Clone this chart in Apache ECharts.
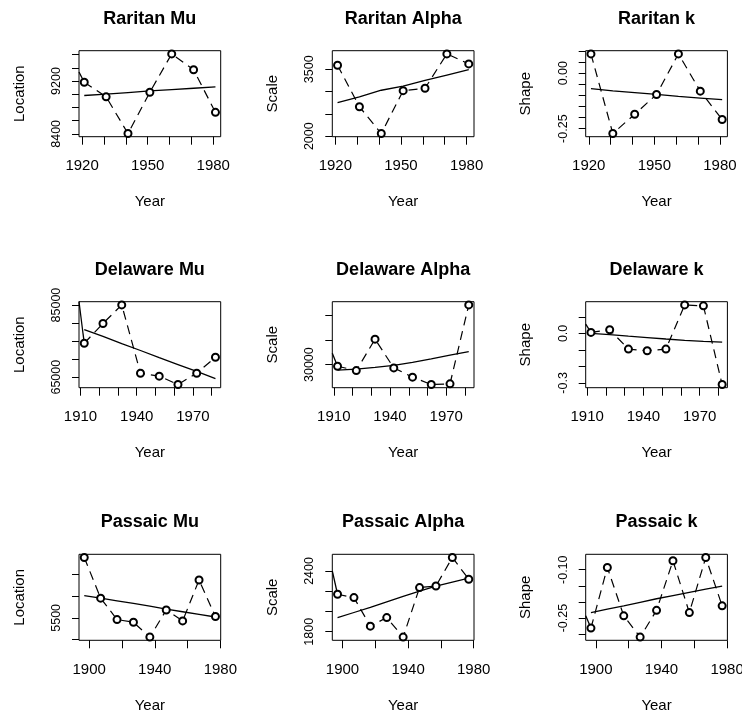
<!DOCTYPE html>
<html>
<head>
<meta charset="utf-8">
<script src="https://cdn.jsdelivr.net/npm/echarts@6/dist/echarts.min.js"></script>
<style>
html, body { margin: 0; padding: 0; background: #fff; }
#chart { width: 742px; height: 717px; }
</style>
</head>
<body>
<div id="chart"></div>
<script>
// years for each river
const raritanYears = [1921, 1931, 1941, 1951, 1961, 1971, 1981]
const delawareYears = [1912, 1922, 1932, 1942, 1952, 1962, 1972, 1982]
const passaicYears = [1897, 1907, 1917, 1927, 1937, 1947, 1957, 1967, 1977]

// dashed series (estimates) and solid trend
const raritanMu = [9180, 8960, 8405, 9030, 9610, 9370, 8725]
const raritanMuTrend = [8980, 9000, 9025, 9050, 9070, 9090, 9110]
const raritanAlpha = [3590, 2660, 2060, 3020, 3075, 3845, 3620]
const raritanAlphaTrend = [2750, 2880, 3030, 3120, 3250, 3370, 3490]
const raritanK = [0.087, -0.272, -0.185, -0.096, 0.087, -0.081, -0.209]
const raritanKTrend = [-0.070, -0.080, -0.088, -0.096, -0.105, -0.112, -0.119]

const delawareMu = [74400, 79900, 85050, 66100, 65280, 62960, 66100, 70520]
const delawareMuTrend = [78200, 76300, 74300, 72400, 70400, 68500, 66600, 64600]
const delawareAlpha = [29350, 27580, 40300, 28670, 24920, 21940, 22220, 54180]
const delawareAlphaTrend = [27800, 28200, 28900, 29700, 30900, 32300, 33800, 35300]
const delawareK = [0.006, 0.022, -0.095, -0.105, -0.095, 0.173, 0.167, -0.310]
const delawareKTrend = [0.000, -0.008, -0.017, -0.025, -0.034, -0.042, -0.048, -0.053]

const passaicMu = [6880, 5950, 5460, 5400, 5060, 5680, 5430, 6365, 5530]
const passaicMuTrend = [6010, 5950, 5890, 5830, 5770, 5700, 5640, 5580, 5520]
const passaicAlpha = [2170, 2137, 1855, 1940, 1747, 2236, 2252, 2533, 2318]
const passaicAlphaTrend = [1940, 1990, 2040, 2095, 2150, 2200, 2250, 2290, 2330]
const passaicK = [-0.281, -0.093, -0.243, -0.309, -0.226, -0.072, -0.233, -0.062, -0.212]
const passaicKTrend = [-0.233, -0.222, -0.212, -0.201, -0.190, -0.180, -0.170, -0.160, -0.151]

// short segment entering from the left edge (value at left edge), null = none
const leadValues = [9335, null, null, 86000, 34600, 0.056, null, 2400, -0.243]

// tick marks and labelled ticks
const raritanXTicks = [1920, 1930, 1940, 1950, 1960, 1970, 1980]
const raritanXLabels = [1920, 1950, 1980]
const delawareXTicks = [1910, 1920, 1930, 1940, 1950, 1960, 1970, 1980]
const delawareXLabels = [1910, 1940, 1970]
const passaicXTicks = [1900, 1920, 1940, 1960, 1980]
const passaicXLabels = [1900, 1940, 1980]

const raritanMuTicks = [8400, 8600, 8800, 9000, 9200, 9400, 9600]
const raritanMuLabels = [8400, 9200]
const raritanAlphaTicks = [2000, 2500, 3000, 3500]
const raritanAlphaLabels = [2000, 3500]
const raritanKTicks = [-0.25, -0.2, -0.15, -0.1, -0.05, 0, 0.05, 0.1]
const raritanKLabels = [-0.25, 0]
const delawareMuTicks = [65000, 70000, 75000, 80000, 85000]
const delawareMuLabels = [65000, 85000]
const delawareAlphaTicks = [30000, 40000, 50000]
const delawareAlphaLabels = [30000]
const delawareKTicks = [-0.3, -0.2, -0.1, 0, 0.1]
const delawareKLabels = [-0.3, 0]
const passaicMuTicks = [5000, 5500, 6000, 6500]
const passaicMuLabels = [5500]
const passaicAlphaTicks = [1800, 2000, 2200, 2400]
const passaicAlphaLabels = [1800, 2400]
const passaicKTicks = [-0.3, -0.25, -0.2, -0.15, -0.1]
const passaicKLabels = [-0.25, -0.1]

const panels = [
  { title: 'Raritan Mu', yName: 'Location', years: raritanYears, vals: raritanMu, trend: raritanMuTrend, xt: raritanXTicks, xl: raritanXLabels, yt: raritanMuTicks, yl: raritanMuLabels, dec: 0 },
  { title: 'Raritan Alpha', yName: 'Scale', years: raritanYears, vals: raritanAlpha, trend: raritanAlphaTrend, xt: raritanXTicks, xl: raritanXLabels, yt: raritanAlphaTicks, yl: raritanAlphaLabels, dec: 0 },
  { title: 'Raritan k', yName: 'Shape', years: raritanYears, vals: raritanK, trend: raritanKTrend, xt: raritanXTicks, xl: raritanXLabels, yt: raritanKTicks, yl: raritanKLabels, dec: 2 },
  { title: 'Delaware Mu', yName: 'Location', years: delawareYears, vals: delawareMu, trend: delawareMuTrend, xt: delawareXTicks, xl: delawareXLabels, yt: delawareMuTicks, yl: delawareMuLabels, dec: 0 },
  { title: 'Delaware Alpha', yName: 'Scale', years: delawareYears, vals: delawareAlpha, trend: delawareAlphaTrend, xt: delawareXTicks, xl: delawareXLabels, yt: delawareAlphaTicks, yl: delawareAlphaLabels, dec: 0 },
  { title: 'Delaware k', yName: 'Shape', years: delawareYears, vals: delawareK, trend: delawareKTrend, xt: delawareXTicks, xl: delawareXLabels, yt: delawareKTicks, yl: delawareKLabels, dec: 1 },
  { title: 'Passaic Mu', yName: 'Location', years: passaicYears, vals: passaicMu, trend: passaicMuTrend, xt: passaicXTicks, xl: passaicXLabels, yt: passaicMuTicks, yl: passaicMuLabels, dec: 0 },
  { title: 'Passaic Alpha', yName: 'Scale', years: passaicYears, vals: passaicAlpha, trend: passaicAlphaTrend, xt: passaicXTicks, xl: passaicXLabels, yt: passaicAlphaTicks, yl: passaicAlphaLabels, dec: 0 },
  { title: 'Passaic k', yName: 'Shape', years: passaicYears, vals: passaicK, trend: passaicKTrend, xt: passaicXTicks, xl: passaicXLabels, yt: passaicKTicks, yl: passaicKLabels, dec: 2 }
]

const FONT = '"Liberation Sans", Arial, Helvetica, sans-serif'
const COL_LEFT = [79, 332.3, 585.7]
const ROW_TOP = [50.7, 301.7, 554.3]
const PLOT_W = 141.7
const PLOT_H = 86

// R style axis range: data range padded by 4%
function padRange(arr) {
  const lo = Math.min(...arr)
  const hi = Math.max(...arr)
  const d = (hi - lo) * 0.04
  return [lo - d, hi + d]
}
const zip = (xs, ys) => xs.map((x, i) => [x, ys[i]])

const grid = []
const xAxis = []
const yAxis = []
const series = []
const graphic = []

panels.forEach((p, i) => {
  const col = i % 3
  const row = Math.floor(i / 3)
  const left = COL_LEFT[col]
  const top = ROW_TOP[row]
  const xr = padRange(p.years)
  const yr = padRange(p.vals)

  grid.push({
    left: left, top: top, width: PLOT_W, height: PLOT_H,
    show: true, borderColor: '#000', borderWidth: 1, backgroundColor: 'transparent',
    containLabel: false, outerBoundsMode: 'none'
  })
  xAxis.push({
    gridIndex: i, type: 'value', min: xr[0], max: xr[1],
    axisLine: { show: false, onZero: false },
    splitLine: { show: false },
    axisTick: { show: true, length: 8, customValues: p.xt, lineStyle: { color: '#000', width: 1 } },
    axisLabel: {
      customValues: p.xl, margin: 22, fontSize: 15, color: '#000', fontFamily: FONT,
      formatter: v => String(Math.round(v))
    },
    name: 'Year', nameLocation: 'middle', nameGap: 58,
    nameTextStyle: { fontSize: 15, color: '#000', fontFamily: FONT }
  })
  yAxis.push({
    gridIndex: i, type: 'value', min: yr[0], max: yr[1],
    axisLine: { show: false, onZero: false },
    splitLine: { show: false },
    axisTick: { show: true, length: 7, customValues: p.yt, lineStyle: { color: '#000', width: 1 } },
    axisLabel: {
      customValues: p.yl, rotate: 90, margin: 16, fontSize: 12.5, color: '#000', fontFamily: FONT,
      formatter: v => Number(v).toFixed(p.dec)
    },
    name: p.yName, nameLocation: 'middle', nameGap: 52,
    nameTextStyle: { fontSize: 15, color: '#000', fontFamily: FONT }
  })
  series.push({
    type: 'line', xAxisIndex: i, yAxisIndex: i,
    data: zip(p.years, p.vals),
    symbol: 'emptyCircle', symbolSize: 7,
    itemStyle: { color: '#000', borderWidth: 1.2 },
    lineStyle: { color: '#000', width: 1.2, type: [9, 6] },
    animation: false, z: 3
  })
  series.push({
    type: 'line', xAxisIndex: i, yAxisIndex: i,
    data: zip(p.years, p.trend),
    symbol: 'none',
    lineStyle: { color: '#000', width: 1.3 },
    animation: false, z: 2
  })
  if (leadValues[i] !== null) {
    series.push({
      type: 'line', xAxisIndex: i, yAxisIndex: i,
      data: [[xr[0], leadValues[i]], [p.years[0], p.vals[0]]],
      symbol: 'none',
      lineStyle: { color: '#000', width: 1.3 },
      animation: false, z: 2
    })
  }
  graphic.push({
    type: 'text', x: left + PLOT_W / 2, y: top - 32,
    style: {
      text: p.title, fill: '#000', align: 'center', verticalAlign: 'middle',
      font: 'bold 18px ' + FONT
    }
  })
})

const chart = echarts.init(document.getElementById('chart'))
chart.setOption({
  backgroundColor: '#fff',
  animation: false,
  grid: grid,
  xAxis: xAxis,
  yAxis: yAxis,
  series: series,
  graphic: graphic
})
</script>
</body>
</html>
